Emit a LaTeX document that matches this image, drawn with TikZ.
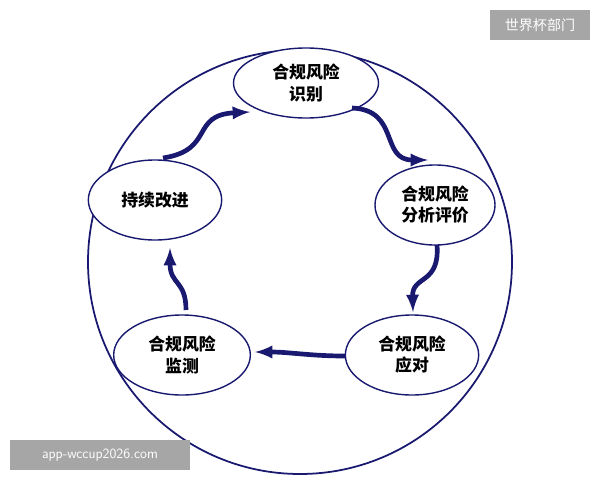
\documentclass[tikz,border=0pt]{standalone}
\usepackage{fontspec}
\newfontfamily\cjk{Noto Sans CJK SC}
\usepackage{tikz}
\usetikzlibrary{arrows,shapes.geometric}
\definecolor{navy}{RGB}{25,25,112}
\tikzset{
  stage/.style={ellipse,draw=navy,line width=1.2pt,fill=white,align=center,font=\cjk\Large\bfseries,inner sep=1pt},
  flow/.style={->,>=latex,line width=4pt,draw=navy},
  wmark/.style={fill=gray!70,text=white,font=\cjk\large,inner sep=0pt}
}
\begin{document}
\begin{tikzpicture}[x=0.03cm,y=-0.03cm]
\useasboundingbox (0,0) rectangle (600,480);
\draw[navy,line width=1.5pt] (300,262) circle [radius=212];

\node[stage,minimum width=4.35cm,minimum height=2.1cm] (ident) at (306,83) {合规风险\\识别};
\node[stage,minimum width=3.6cm,minimum height=2.4cm] (anal) at (435,205) {合规风险\\分析评价};
\node[stage,minimum width=4cm,minimum height=2.4cm] (resp) at (412,355) {合规风险\\应对};
\node[stage,minimum width=4.1cm,minimum height=2.4cm] (moni) at (182,355) {合规风险\\监测};
\node[stage,minimum width=4cm,minimum height=2.4cm] (impr) at (155,200) {持续改进};

\coordinate (i1) at (163,158);
\coordinate (i2) at (250,112);
\path[flow] (i1) .. controls (215,150) and (190,115) .. (i2);
\coordinate (a1) at (352,108);
\coordinate (a2) at (428,160);
\path[flow] (a1) .. controls (400,110) and (380,160) .. (a2);
\coordinate (r1) at (437,245);
\coordinate (r2) at (413,312);
\path[flow] (r1) .. controls (440,285) and (412,275) .. (r2);
\coordinate (m1) at (345,356);
\coordinate (m2) at (255,352);
\path[flow] (m1) .. controls (310,356) and (290,352) .. (m2);
\coordinate (c1) at (186,310);
\coordinate (c2) at (170,248);
\path[flow] (c1) .. controls (186,280) and (170,285) .. (c2);

\node[wmark,minimum width=3cm,minimum height=0.9cm] (wm1) at (540,25) {世界杯部门};
\node[wmark,minimum width=5.4cm,minimum height=0.9cm,font=\large\sffamily] (wm2) at (100,455) {app-wccup2026.com};
\end{tikzpicture}
\end{document}
